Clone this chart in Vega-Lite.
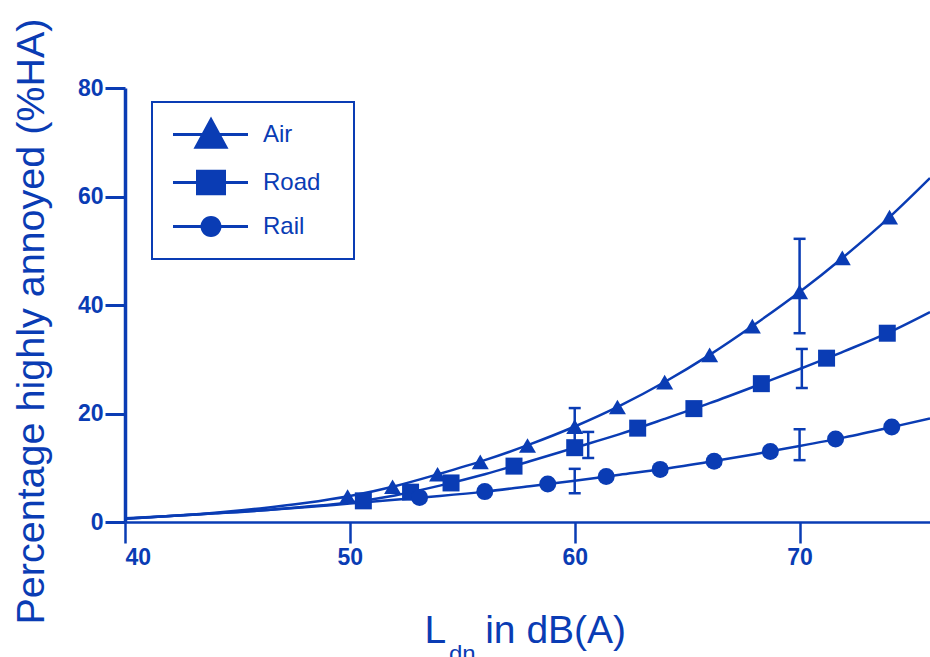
{
  "$schema": "https://vega.github.io/schema/vega-lite/v6.json",
  "width": 805,
  "height": 434,
  "autosize": {"type": "none"},
  "padding": {"left": 125, "top": 88, "right": 0, "bottom": 135},
  "background": "white",
  "config": {"view": {"stroke": null}, "font": "Liberation Sans", "legend": {"strokeWidth": 2}},
  "title": {"text": "dn", "orient": "bottom", "anchor": "start", "frame": "group", "dx": 324, "offset": 12, "fontSize": 24, "font": "Liberation Sans", "fontWeight": "normal", "color": "#0a3cb4", "baseline": "alphabetic"},
  "resolve": {"scale": {"shape": "independent"}, "legend": {"shape": "independent"}},
  "datasets": {
    "curves": [
      {"series": "Air", "x": 40, "y": 0.6}, {"series": "Air", "x": 42, "y": 1.1}, {"series": "Air", "x": 44, "y": 1.7}, {"series": "Air", "x": 46, "y": 2.5}, {"series": "Air", "x": 48, "y": 3.5}, {"series": "Air", "x": 50, "y": 4.8}, {"series": "Air", "x": 52, "y": 6.6}, {"series": "Air", "x": 54, "y": 8.9}, {"series": "Air", "x": 56, "y": 11.4}, {"series": "Air", "x": 58, "y": 14.3}, {"series": "Air", "x": 60, "y": 17.6}, {"series": "Air", "x": 62, "y": 21.4}, {"series": "Air", "x": 64, "y": 25.8}, {"series": "Air", "x": 66, "y": 30.8}, {"series": "Air", "x": 68, "y": 36.4}, {"series": "Air", "x": 70, "y": 42.4}, {"series": "Air", "x": 72, "y": 49.0}, {"series": "Air", "x": 74, "y": 56.2}, {"series": "Air", "x": 75.8, "y": 63.4},
      {"series": "Road", "x": 40, "y": 0.7}, {"series": "Road", "x": 42, "y": 1.1}, {"series": "Road", "x": 44, "y": 1.6}, {"series": "Road", "x": 46, "y": 2.1}, {"series": "Road", "x": 48, "y": 2.8}, {"series": "Road", "x": 50, "y": 3.6}, {"series": "Road", "x": 52, "y": 4.9}, {"series": "Road", "x": 54, "y": 6.7}, {"series": "Road", "x": 56, "y": 8.8}, {"series": "Road", "x": 58, "y": 11.2}, {"series": "Road", "x": 60, "y": 13.7}, {"series": "Road", "x": 62, "y": 16.2}, {"series": "Road", "x": 64, "y": 19.0}, {"series": "Road", "x": 66, "y": 21.9}, {"series": "Road", "x": 68, "y": 25.0}, {"series": "Road", "x": 70, "y": 28.2}, {"series": "Road", "x": 72, "y": 31.5}, {"series": "Road", "x": 74, "y": 35.0}, {"series": "Road", "x": 75.8, "y": 38.7},
      {"series": "Rail", "x": 40, "y": 0.6}, {"series": "Rail", "x": 42, "y": 1.1}, {"series": "Rail", "x": 44, "y": 1.6}, {"series": "Rail", "x": 46, "y": 2.1}, {"series": "Rail", "x": 48, "y": 2.7}, {"series": "Rail", "x": 50, "y": 3.4}, {"series": "Rail", "x": 52, "y": 4.1}, {"series": "Rail", "x": 54, "y": 4.8}, {"series": "Rail", "x": 56, "y": 5.6}, {"series": "Rail", "x": 58, "y": 6.6}, {"series": "Rail", "x": 60, "y": 7.6}, {"series": "Rail", "x": 62, "y": 8.7}, {"series": "Rail", "x": 64, "y": 9.8}, {"series": "Rail", "x": 66, "y": 11.1}, {"series": "Rail", "x": 68, "y": 12.5}, {"series": "Rail", "x": 70, "y": 14.0}, {"series": "Rail", "x": 72, "y": 15.6}, {"series": "Rail", "x": 74, "y": 17.4}, {"series": "Rail", "x": 75.8, "y": 19.1}
    ],
    "markers": [
      {"series": "Air", "x": 49.9, "y": 4.7}, {"series": "Air", "x": 51.9, "y": 6.5}, {"series": "Air", "x": 53.9, "y": 8.8}, {"series": "Air", "x": 55.8, "y": 11.1}, {"series": "Air", "x": 57.9, "y": 14.1}, {"series": "Air", "x": 60, "y": 17.6}, {"series": "Air", "x": 61.9, "y": 21.2}, {"series": "Air", "x": 64, "y": 25.8}, {"series": "Air", "x": 66, "y": 30.8}, {"series": "Air", "x": 67.9, "y": 36.1}, {"series": "Air", "x": 70, "y": 42.4}, {"series": "Air", "x": 71.9, "y": 48.7}, {"series": "Air", "x": 74, "y": 56.2},
      {"series": "Road", "x": 50.6, "y": 3.9}, {"series": "Road", "x": 52.7, "y": 5.5}, {"series": "Road", "x": 54.5, "y": 7.2}, {"series": "Road", "x": 57.3, "y": 10.3}, {"series": "Road", "x": 60, "y": 13.7}, {"series": "Road", "x": 62.8, "y": 17.3}, {"series": "Road", "x": 65.3, "y": 20.9}, {"series": "Road", "x": 68.3, "y": 25.5}, {"series": "Road", "x": 71.2, "y": 30.2}, {"series": "Road", "x": 73.9, "y": 34.8},
      {"series": "Rail", "x": 53.1, "y": 4.5}, {"series": "Rail", "x": 56, "y": 5.6}, {"series": "Rail", "x": 58.8, "y": 7.0}, {"series": "Rail", "x": 61.4, "y": 8.4}, {"series": "Rail", "x": 63.8, "y": 9.7}, {"series": "Rail", "x": 66.2, "y": 11.2}, {"series": "Rail", "x": 68.7, "y": 13.0}, {"series": "Rail", "x": 71.6, "y": 15.3}, {"series": "Rail", "x": 74.1, "y": 17.5}
    ],
    "errs": [
      {"series": "Air", "x": 60, "lo": 13.5, "hi": 21.0},
      {"series": "Air", "x": 70, "lo": 34.8, "hi": 52.2},
      {"series": "Road", "x": 60.6, "lo": 11.8, "hi": 16.6},
      {"series": "Road", "x": 70.1, "lo": 24.7, "hi": 31.9},
      {"series": "Rail", "x": 60, "lo": 5.3, "hi": 9.8},
      {"series": "Rail", "x": 70, "lo": 11.4, "hi": 17.1}
    ]
  },
  "layer": [
    {
      "data": {"name": "curves"},
      "mark": {"type": "line", "color": "#0a3cb4", "strokeWidth": 2.5, "interpolate": "monotone", "clip": true},
      "encoding": {
        "x": {"field": "x", "type": "quantitative", "scale": {"domain": [40, 75.8], "nice": false, "zero": false},
          "axis": {"values": [40, 50, 60, 70], "grid": false, "domainColor": "#0a3cb4", "domainWidth": 2.5, "tickColor": "#0a3cb4", "tickWidth": 2.5, "tickSize": 21, "labelFont": "Liberation Sans", "labelFontSize": 23, "labelFontWeight": "bold", "labelColor": "#0a3cb4", "labelPadding": 3, "labelFlush": true,
            "title": "L\u2002\u2002in dB(A)", "titleFont": "Liberation Sans", "titleFontSize": 39, "titleFontWeight": "normal", "titleColor": "#0a3cb4", "titleX": 299, "titleY": 120, "titleAlign": "left", "titleBaseline": "alphabetic"}},
        "y": {"field": "y", "type": "quantitative", "scale": {"domain": [0, 80], "nice": false},
          "axis": {"values": [0, 20, 40, 60, 80], "grid": false, "domainColor": "#0a3cb4", "domainWidth": 3.5, "tickColor": "#0a3cb4", "tickWidth": 3, "tickSize": 20, "labelFont": "Liberation Sans", "labelFontSize": 23, "labelFontWeight": "bold", "labelColor": "#0a3cb4", "labelPadding": 2,
            "title": "Percentage highly annoyed (%HA)", "titleFont": "Liberation Sans", "titleFontSize": 39.5, "titleFontWeight": "normal", "titleColor": "#0a3cb4", "titleX": -82, "titleY": 233, "titleAngle": 270, "titleAlign": "center", "titleBaseline": "alphabetic"}},
        "detail": {"field": "series"}
      }
    },
    {
      "data": {"name": "errs"},
      "mark": {"type": "rule", "color": "#0a3cb4", "strokeWidth": 2.5},
      "encoding": {
        "x": {"field": "x", "type": "quantitative"},
        "y": {"field": "lo", "type": "quantitative"},
        "y2": {"field": "hi"}
      }
    },
    {
      "data": {"name": "errs"},
      "mark": {"type": "tick", "orient": "horizontal", "color": "#0a3cb4", "size": 12, "thickness": 2.5, "opacity": 1},
      "encoding": {
        "x": {"field": "x", "type": "quantitative"},
        "y": {"field": "lo", "type": "quantitative"}
      }
    },
    {
      "data": {"name": "errs"},
      "mark": {"type": "tick", "orient": "horizontal", "color": "#0a3cb4", "size": 12, "thickness": 2.5, "opacity": 1},
      "encoding": {
        "x": {"field": "x", "type": "quantitative"},
        "y": {"field": "hi", "type": "quantitative"}
      }
    },
    {
      "data": {"name": "markers"},
      "mark": {"type": "point", "filled": true, "color": "#0a3cb4", "opacity": 1, "size": 289},
      "encoding": {
        "x": {"field": "x", "type": "quantitative"},
        "y": {"field": "y", "type": "quantitative"},
        "shape": {"field": "series", "type": "nominal",
          "scale": {"domain": ["Air", "Road", "Rail"], "range": ["triangle-up", "square", "circle"]},
          "legend": null}
      }
    },
    {
      "data": {"name": "markers"},
      "mark": {"type": "point", "filled": true, "color": "#0a3cb4", "opacity": 0, "size": 289},
      "encoding": {
        "x": {"field": "x", "type": "quantitative"},
        "y": {"field": "y", "type": "quantitative"},
        "shape": {"field": "series", "type": "nominal",
          "scale": {"domain": ["Air", "Road", "Rail"], "range": [
            "M-0.767,-0.1H4.233V0.1H-0.767ZM1.767,-1.2L2.933,0.95L0.6,0.95Z",
            "M-0.767,-0.1H4.233V0.1H-0.767ZM0.767,-0.85H2.767V0.85H0.767Z",
            "M-0.767,-0.1H4.233V0.1H-0.767ZM1.067,0A0.7,0.7,0,1,1,2.467,0A0.7,0.7,0,1,1,1.067,0Z"]},
          "legend": {"orient": "none", "legendX": 27, "legendY": 14, "title": null, "padding": 16, "strokeColor": "#0a3cb4", "fillColor": "white",
            "labelFont": "Liberation Sans", "labelFontSize": 24, "labelColor": "#0a3cb4", "labelOffset": 62, "labelLimit": 300,
            "labelExpr": "datum.label + '\u2002\u2009\u200b'",
            "symbolSize": 900, "symbolStrokeWidth": 3, "symbolFillColor": "#0a3cb4", "symbolStrokeColor": "#0a3cb4", "symbolOpacity": 1, "rowPadding": 8}}
      }
    }
  ]
}
